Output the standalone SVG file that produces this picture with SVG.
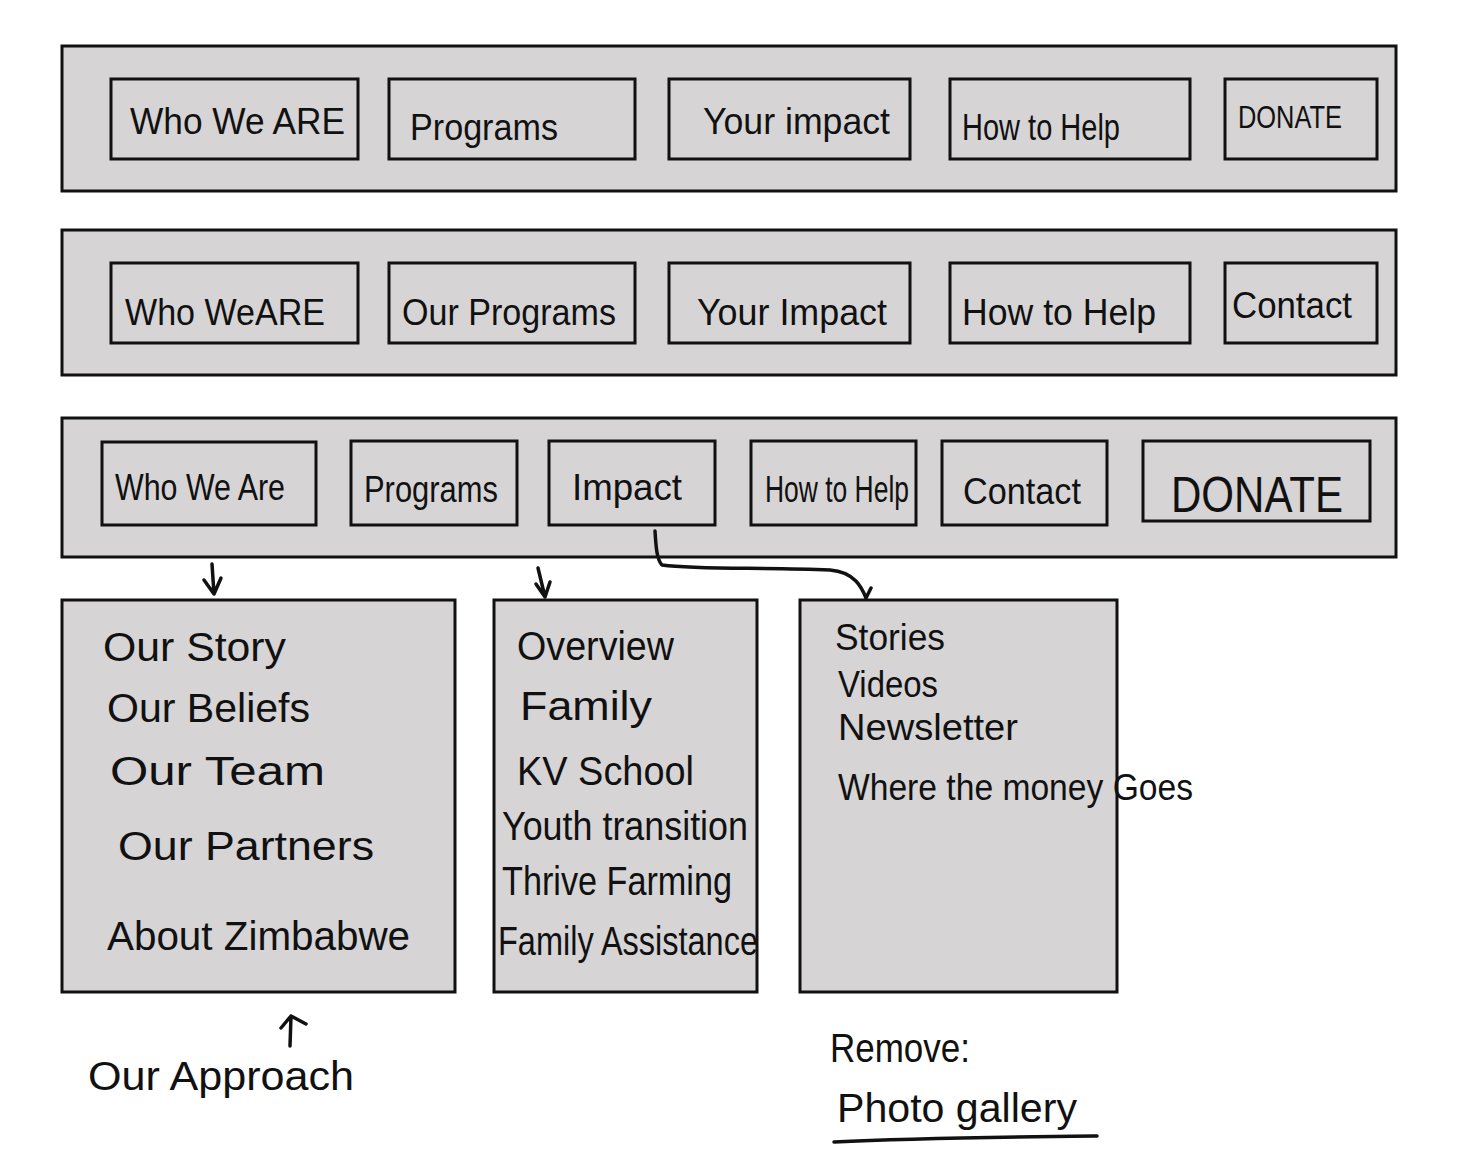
<svg xmlns="http://www.w3.org/2000/svg" width="1478" height="1176" viewBox="0 0 1478 1176">
<style>
.bar{fill:#d6d4d5;stroke:#111;stroke-width:3}
.btn{fill:#d6d4d5;stroke:#111;stroke-width:3}
.lbl{font-family:"Liberation Sans",Arial,sans-serif;font-size:36px;fill:#111}
.item{font-family:"Liberation Sans",Arial,sans-serif;font-size:40px;fill:#111}
.note{font-family:"Liberation Sans",Arial,sans-serif;font-size:40px;fill:#111}
.conn{fill:none;stroke:#111;stroke-width:3.5;stroke-linecap:round;stroke-linejoin:round}
</style>
<rect width="1478" height="1176" fill="#fff"/>
<g id="nav1">
<rect class="bar" x="62" y="46" width="1334" height="145"/>
<g id="nav1-who"><rect class="btn" x="111" y="79" width="247" height="80"/><text class="lbl" x="130" y="134" textLength="215" lengthAdjust="spacingAndGlyphs">Who We ARE</text></g>
<g id="nav1-programs"><rect class="btn" x="389" y="79" width="246" height="80"/><text class="lbl" x="410" y="140" textLength="148" lengthAdjust="spacingAndGlyphs">Programs</text></g>
<g id="nav1-impact"><rect class="btn" x="669" y="79" width="241" height="80"/><text class="lbl" x="703" y="134" textLength="187" lengthAdjust="spacingAndGlyphs">Your impact</text></g>
<g id="nav1-help"><rect class="btn" x="950" y="79" width="240" height="80"/><text class="lbl" x="962" y="140" textLength="158" lengthAdjust="spacingAndGlyphs">How to Help</text></g>
<g id="nav1-donate"><rect class="btn" x="1225" y="79" width="152" height="80"/><text class="lbl" x="1238" y="128" textLength="104" lengthAdjust="spacingAndGlyphs" style="font-size:32px">DONATE</text></g>
</g>
<g id="nav2">
<rect class="bar" x="62" y="230" width="1334" height="145"/>
<g id="nav2-who"><rect class="btn" x="111" y="263" width="247" height="80"/><text class="lbl" x="125" y="325" textLength="200" lengthAdjust="spacingAndGlyphs">Who WeARE</text></g>
<g id="nav2-programs"><rect class="btn" x="389" y="263" width="246" height="80"/><text class="lbl" x="402" y="325" textLength="214" lengthAdjust="spacingAndGlyphs">Our Programs</text></g>
<g id="nav2-impact"><rect class="btn" x="669" y="263" width="241" height="80"/><text class="lbl" x="697" y="325" textLength="190" lengthAdjust="spacingAndGlyphs">Your Impact</text></g>
<g id="nav2-help"><rect class="btn" x="950" y="263" width="240" height="80"/><text class="lbl" x="962" y="325" textLength="194" lengthAdjust="spacingAndGlyphs">How to Help</text></g>
<g id="nav2-contact"><rect class="btn" x="1225" y="263" width="152" height="80"/><text class="lbl" x="1232" y="318" textLength="120" lengthAdjust="spacingAndGlyphs">Contact</text></g>
</g>
<g id="nav3">
<rect class="bar" x="62" y="418" width="1334" height="139"/>
<g id="nav3-who"><rect class="btn" x="102" y="442" width="214" height="83"/><text class="lbl" x="115" y="500" textLength="170" lengthAdjust="spacingAndGlyphs">Who We Are</text></g>
<g id="nav3-programs"><rect class="btn" x="351" y="441" width="166" height="84"/><text class="lbl" x="364" y="502" textLength="134" lengthAdjust="spacingAndGlyphs">Programs</text></g>
<g id="nav3-impact"><rect class="btn" x="549" y="441" width="166" height="84"/><text class="lbl" x="572" y="500" textLength="110" lengthAdjust="spacingAndGlyphs">Impact</text></g>
<g id="nav3-help"><rect class="btn" x="751" y="441" width="165" height="84"/><text class="lbl" x="765" y="502" textLength="144" lengthAdjust="spacingAndGlyphs">How to Help</text></g>
<g id="nav3-contact"><rect class="btn" x="942" y="441" width="165" height="84"/><text class="lbl" x="963" y="504" textLength="118" lengthAdjust="spacingAndGlyphs">Contact</text></g>
<g id="nav3-donate"><rect class="btn" x="1143" y="441" width="227" height="80"/><text class="lbl" x="1171" y="512" textLength="172" lengthAdjust="spacingAndGlyphs" style="font-size:50px">DONATE</text></g>
</g>
<g id="connectors">
<path class="conn" d="M212 564 L214 594 M204 580 L214 594 L221 578"/>
<path class="conn" d="M538 568 L545 597 M536 584 L545 597 L550 582"/>
<path class="conn" d="M655 531 C656 548 657 560 662 565 C700 570 760 567 830 570 C855 572 862 588 866 598 M871 588 L866 598"/>
<path class="conn" d="M290 1046 L291 1016 M281 1028 L291 1016 L306 1024"/>
<path class="conn" d="M834 1142 C920 1138 1010 1137 1097 1136"/>
</g>
<g id="who-we-are-menu">
<rect class="btn" x="62" y="600" width="393" height="392"/>
<text class="item" x="103" y="661" textLength="183" lengthAdjust="spacingAndGlyphs">Our Story</text>
<text class="item" x="107" y="722" textLength="203" lengthAdjust="spacingAndGlyphs">Our Beliefs</text>
<text class="item" x="110" y="785" textLength="215" lengthAdjust="spacingAndGlyphs">Our Team</text>
<text class="item" x="118" y="860" textLength="256" lengthAdjust="spacingAndGlyphs">Our Partners</text>
<text class="item" x="107" y="950" textLength="303" lengthAdjust="spacingAndGlyphs">About Zimbabwe</text>
</g>
<g id="programs-menu">
<rect class="btn" x="494" y="600" width="263" height="392"/>
<text class="item" x="517" y="660" textLength="157" lengthAdjust="spacingAndGlyphs">Overview</text>
<text class="item" x="520" y="720" textLength="132" lengthAdjust="spacingAndGlyphs">Family</text>
<text class="item" x="517" y="785" textLength="177" lengthAdjust="spacingAndGlyphs">KV School</text>
<text class="item" x="502" y="840" textLength="246" lengthAdjust="spacingAndGlyphs">Youth transition</text>
<text class="item" x="502" y="895" textLength="230" lengthAdjust="spacingAndGlyphs">Thrive Farming</text>
<text class="item" x="498" y="955" textLength="260" lengthAdjust="spacingAndGlyphs">Family Assistance</text>
</g>
<g id="impact-menu">
<rect class="btn" x="800" y="600" width="317" height="392"/>
<text class="item" x="835" y="650" textLength="110" lengthAdjust="spacingAndGlyphs" style="font-size:36px">Stories</text>
<text class="item" x="838" y="697" textLength="100" lengthAdjust="spacingAndGlyphs" style="font-size:36px">Videos</text>
<text class="item" x="838" y="740" textLength="180" lengthAdjust="spacingAndGlyphs" style="font-size:36px">Newsletter</text>
<text class="item" x="838" y="800" textLength="355" lengthAdjust="spacingAndGlyphs" style="font-size:36px">Where the money Goes</text>
</g>
<g id="notes">
<text class="note" x="88" y="1090" textLength="266" lengthAdjust="spacingAndGlyphs">Our Approach</text>
<text class="note" x="830" y="1062" textLength="140" lengthAdjust="spacingAndGlyphs">Remove:</text>
<text class="note" x="837" y="1122" textLength="240" lengthAdjust="spacingAndGlyphs">Photo gallery</text>
</g>
</svg>
